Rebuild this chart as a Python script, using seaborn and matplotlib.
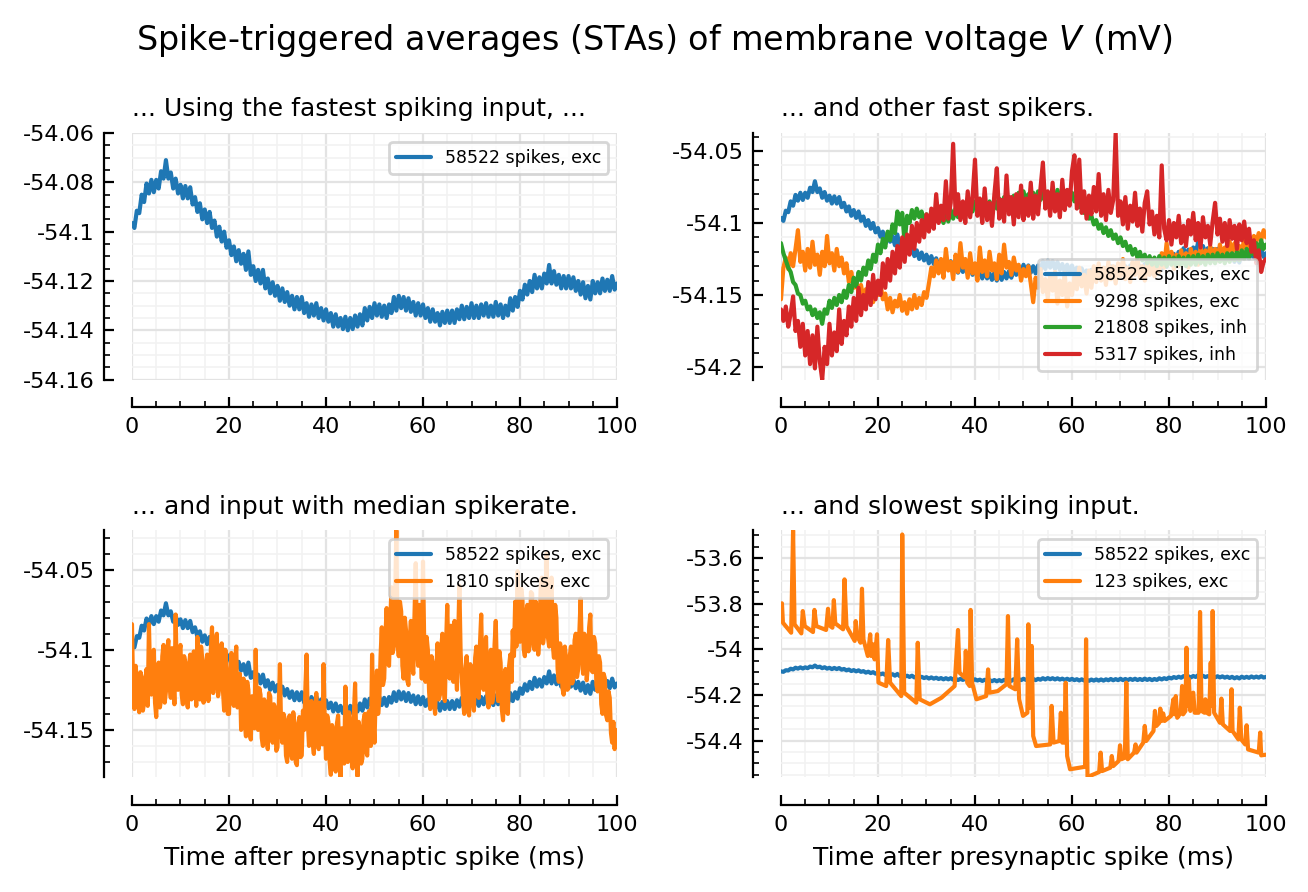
import numpy as np
import matplotlib
matplotlib.use("Agg")
import matplotlib.pyplot as plt
import seaborn as sns
from matplotlib.ticker import MultipleLocator, FuncFormatter

# ---------------- data (mV), time grids in ms ----------------
t_ms = np.arange(0, 100.5, 0.5)
t_fine = np.arange(0, 100.25, 0.25)

v_58522 = [
    -54.0965, -54.0985, -54.0915, -54.0925, -54.085, -54.088, -54.0805, -54.0845, -54.079, -54.084,
    -54.079, -54.0825, -54.0755, -54.0785, -54.071, -54.0785, -54.076, -54.0825, -54.0785, -54.0845,
    -54.081, -54.0865, -54.0815, -54.0865, -54.082, -54.089, -54.086, -54.092, -54.0885, -54.095,
    -54.091, -54.0965, -54.092, -54.0985, -54.0955, -54.102, -54.098, -54.104, -54.100, -54.1065,
    -54.1035, -54.1095, -54.106, -54.112, -54.1075, -54.113, -54.109, -54.1155, -54.108, -54.1175,
    -54.114, -54.120, -54.1155, -54.121, -54.1155, -54.123, -54.119, -54.125, -54.1205, -54.126,
    -54.122, -54.128, -54.123, -54.1285, -54.1245, -54.130, -54.126, -54.1315, -54.1265, -54.1315,
    -54.1265, -54.133, -54.129, -54.1345, -54.1295, -54.134, -54.129, -54.135, -54.131, -54.136,
    -54.1315, -54.1365, -54.133, -54.1385, -54.1335, -54.1385, -54.135, -54.1395, -54.1345, -54.140,
    -54.135, -54.1395, -54.134, -54.1385, -54.1335, -54.138, -54.131, -54.136, -54.1305, -54.135,
    -54.129, -54.134, -54.1295, -54.1345, -54.130, -54.135, -54.1295, -54.133, -54.1265, -54.132,
    -54.126, -54.131, -54.1265, -54.132, -54.127, -54.1325, -54.1285, -54.134, -54.129, -54.134,
    -54.1295, -54.135, -54.131, -54.1365, -54.1315, -54.1365, -54.133, -54.138, -54.1325, -54.137,
    -54.132, -54.137, -54.132, -54.137, -54.1315, -54.1355, -54.130, -54.1355, -54.1305, -54.135,
    -54.129, -54.135, -54.130, -54.135, -54.1295, -54.134, -54.129, -54.1345, -54.130, -54.1345,
    -54.1285, -54.134, -54.1295, -54.135, -54.130, -54.134, -54.127, -54.132, -54.1265, -54.1305,
    -54.124, -54.1275, -54.1215, -54.1255, -54.120, -54.1245, -54.1175, -54.123, -54.1185, -54.123,
    -54.117, -54.121, -54.1135, -54.121, -54.116, -54.1215, -54.1175, -54.123, -54.118, -54.123,
    -54.118, -54.123, -54.1185, -54.124, -54.120, -54.1255, -54.1205, -54.127, -54.122, -54.1275,
    -54.120, -54.125, -54.1205, -54.125, -54.119, -54.124, -54.1195, -54.124, -54.118, -54.1235,
    -54.121,
]

v_9298 = [
    -54.153, -54.131, -54.124, -54.132, -54.121, -54.130, -54.118, -54.105, -54.127, -54.120,
    -54.133, -54.118, -54.131, -54.113, -54.129, -54.122, -54.136, -54.120, -54.130, -54.109,
    -54.128, -54.121, -54.133, -54.118, -54.130, -54.124, -54.135, -54.128, -54.141, -54.134,
    -54.145, -54.139, -54.149, -54.143, -54.153, -54.146, -54.152, -54.144, -54.155, -54.147,
    -54.150, -54.141, -54.153, -54.149, -54.160, -54.152, -54.162, -54.154, -54.158, -54.150,
    -54.161, -54.155, -54.163, -54.153, -54.160, -54.150, -54.159, -54.152, -54.157, -54.148,
    -54.152, -54.142, -54.131, -54.137, -54.126, -54.135, -54.125, -54.138, -54.118, -54.133,
    -54.127, -54.139, -54.122, -54.134, -54.114, -54.131, -54.125, -54.138, -54.121, -54.135,
    -54.128, -54.140, -54.117, -54.134, -54.126, -54.137, -54.120, -54.133, -54.128, -54.139,
    -54.122, -54.135, -54.115, -54.131, -54.127, -54.136, -54.124, -54.133, -54.129, -54.140,
    -54.132, -54.137, -54.130, -54.142, -54.155, -54.138, -54.145, -54.132, -54.148, -54.139,
    -54.152, -54.136, -54.147, -54.134, -54.156, -54.140, -54.150, -54.135, -54.158, -54.142,
    -54.150, -54.137, -54.146, -54.131, -54.144, -54.136, -54.149, -54.133, -54.145, -54.130,
    -54.141, -54.128, -54.140, -54.131, -54.143, -54.127, -54.139, -54.130, -54.142, -54.128,
    -54.137, -54.125, -54.139, -54.131, -54.141, -54.127, -54.136, -54.124, -54.138, -54.130,
    -54.140, -54.128, -54.136, -54.125, -54.137, -54.129, -54.134, -54.121, -54.131, -54.114,
    -54.128, -54.120, -54.132, -54.122, -54.130, -54.119, -54.128, -54.121, -54.131, -54.118,
    -54.127, -54.120, -54.129, -54.117, -54.126, -54.119, -54.125, -54.116, -54.124, -54.118,
    -54.126, -54.115, -54.123, -54.117, -54.121, -54.113, -54.120, -54.114, -54.121, -54.116,
    -54.119, -54.112, -54.118, -54.114, -54.115, -54.109, -54.113, -54.107, -54.112, -54.105,
    -54.110,
]

v_21808 = [
    -54.114, -54.121, -54.126, -54.131, -54.134, -54.141, -54.143, -54.149, -54.150, -54.156,
    -54.154, -54.160, -54.158, -54.164, -54.160, -54.166, -54.162, -54.170, -54.160, -54.163,
    -54.154, -54.159, -54.152, -54.157, -54.150, -54.155, -54.147, -54.152, -54.143, -54.148,
    -54.138, -54.144, -54.134, -54.140, -54.131, -54.136, -54.126, -54.132, -54.122, -54.127,
    -54.115, -54.121, -54.111, -54.117, -54.106, -54.112, -54.101, -54.107, -54.092, -54.101,
    -54.093, -54.114, -54.095, -54.100, -54.091, -54.097, -54.090, -54.096, -54.092, -54.099,
    -54.094, -54.100, -54.093, -54.099, -54.090, -54.097, -54.094, -54.100, -54.093, -54.099,
    -54.091, -54.097, -54.090, -54.096, -54.089, -54.095, -54.087, -54.093, -54.086, -54.092,
    -54.085, -54.091, -54.086, -54.092, -54.084, -54.090, -54.085, -54.091, -54.084, -54.090,
    -54.083, -54.089, -54.082, -54.088, -54.082, -54.088, -54.081, -54.087, -54.079, -54.086,
    -54.078, -54.085, -54.080, -54.086, -54.079, -54.085, -54.078, -54.084, -54.079, -54.085,
    -54.080, -54.086, -54.078, -54.084, -54.077, -54.083, -54.079, -54.085, -54.078, -54.084,
    -54.079, -54.085, -54.082, -54.089, -54.086, -54.093, -54.091, -54.097, -54.095, -54.101,
    -54.098, -54.104, -54.101, -54.107, -54.103, -54.109, -54.105, -54.111, -54.108, -54.114,
    -54.110, -54.116, -54.113, -54.119, -54.116, -54.122, -54.118, -54.124, -54.120, -54.126,
    -54.122, -54.128, -54.123, -54.129, -54.124, -54.130, -54.123, -54.129, -54.124, -54.130,
    -54.123, -54.129, -54.124, -54.130, -54.123, -54.129, -54.124, -54.130, -54.123, -54.129,
    -54.123, -54.129, -54.122, -54.128, -54.123, -54.129, -54.122, -54.128, -54.122, -54.128,
    -54.121, -54.127, -54.122, -54.128, -54.121, -54.127, -54.121, -54.126, -54.120, -54.126,
    -54.119, -54.125, -54.118, -54.124, -54.116, -54.122, -54.114, -54.120, -54.112, -54.118,
    -54.115,
]

v_5317 = [
    -54.160, -54.168, -54.158, -54.172, -54.163, -54.151, -54.175, -54.168, -54.186, -54.170,
    -54.192, -54.175, -54.198, -54.178, -54.201, -54.172, -54.196, -54.2088, -54.186, -54.198,
    -54.170, -54.192, -54.176, -54.189, -54.160, -54.184, -54.168, -54.178, -54.158, -54.172,
    -54.152, -54.168, -54.145, -54.164, -54.150, -54.160, -54.141, -54.157, -54.136, -54.153,
    -54.140, -54.150, -54.128, -54.145, -54.125, -54.140, -54.120, -54.135, -54.116, -54.131,
    -54.110, -54.127, -54.108, -54.122, -54.102, -54.118, -54.100, -54.113, -54.098, -54.110,
    -54.094, -54.106, -54.090, -54.104, -54.080, -54.100, -54.088, -54.098, -54.071, -54.097,
    -54.086, -54.045, -54.094, -54.080, -54.098, -54.085, -54.100, -54.078, -54.096, -54.082,
    -54.056, -54.095, -54.083, -54.100, -54.076, -54.098, -54.086, -54.102, -54.080, -54.062,
    -54.097, -54.084, -54.099, -54.067, -54.094, -54.082, -54.101, -54.080, -54.096, -54.074,
    -54.098, -54.083, -54.095, -54.072, -54.097, -54.081, -54.094, -54.076, -54.058, -54.090,
    -54.078, -54.095, -54.072, -54.092, -54.080, -54.096, -54.070, -54.091, -54.077, -54.088,
    -54.064, -54.053, -54.090, -54.056, -54.093, -54.078, -54.097, -54.081, -54.094, -54.075,
    -54.092, -54.066, -54.095, -54.080, -54.098, -54.077, -54.093, -54.084, -54.0375, -54.095,
    -54.085, -54.101, -54.082, -54.104, -54.088, -54.099, -54.079, -54.102, -54.090, -54.106,
    -54.086, -54.078, -54.101, -54.092, -54.108, -54.095, -54.110, -54.060, -54.104, -54.112,
    -54.098, -54.115, -54.100, -54.110, -54.095, -54.114, -54.102, -54.116, -54.098, -54.108,
    -54.093, -54.112, -54.100, -54.117, -54.096, -54.110, -54.102, -54.115, -54.099, -54.086,
    -54.108, -54.097, -54.113, -54.100, -54.116, -54.098, -54.111, -54.102, -54.118, -54.101,
    -54.112, -54.099, -54.114, -54.104, -54.120, -54.112, -54.128, -54.119, -54.134, -54.127,
    -54.125,
]

# median-rate input (1810 spikes), sampled every 0.25 ms
v_1810 = [
    -54.084, -54.128, -54.137, -54.110, -54.118, -54.134, -54.139, -54.114, -54.117, -54.138,
    -54.133, -54.120, -54.112, -54.135, -54.084, -54.118, -54.128, -54.106, -54.100, -54.133,
    -54.142, -54.115, -54.108, -54.136, -54.131, -54.104, -54.097, -54.133, -54.126, -54.101,
    -54.094, -54.121, -54.130, -54.099, -54.112, -54.134, -54.078, -54.116, -54.125, -54.102,
    -54.097, -54.128, -54.134, -54.104, -54.108, -54.129, -54.136, -54.110, -54.103, -54.131,
    -54.130, -54.101, -54.112, -54.135, -54.092, -54.120, -54.131, -54.098, -54.106, -54.133,
    -54.128, -54.110, -54.103, -54.132, -54.124, -54.100, -54.086, -54.127, -54.118, -54.095,
    -54.090, -54.129, -54.123, -54.104, -54.096, -54.125, -54.138, -54.100, -54.112, -54.140,
    -54.140, -54.118, -54.102, -54.129, -54.135, -54.108, -54.098, -54.136, -54.132, -54.115,
    -54.150, -54.126, -54.118, -54.145, -54.154, -54.120, -54.125, -54.152, -54.156, -54.129,
    -54.130, -54.149, -54.100, -54.138, -54.150, -54.124, -54.128, -54.155, -54.160, -54.131,
    -54.133, -54.154, -54.162, -54.127, -54.129, -54.152, -54.158, -54.134, -54.136, -54.163,
    -54.161, -54.138, -54.109, -54.150, -54.158, -54.140, -54.143, -54.166, -54.170, -54.145,
    -54.141, -54.164, -54.168, -54.139, -54.146, -54.170, -54.172, -54.148, -54.142, -54.167,
    -54.166, -54.138, -54.150, -54.124, -54.103, -54.145, -54.160, -54.136, -54.132, -54.158,
    -54.165, -54.140, -54.127, -54.151, -54.162, -54.133, -54.140, -54.159, -54.109, -54.148,
    -54.168, -54.141, -54.145, -54.170, -54.178, -54.147, -54.150, -54.172, -54.176, -54.146,
    -54.141, -54.166, -54.1794, -54.149, -54.152, -54.171, -54.123, -54.150, -54.170, -54.139,
    -54.146, -54.168, -54.174, -54.140, -54.121, -54.158, -54.179, -54.145, -54.150, -54.171,
    -54.168, -54.144, -54.140, -54.163, -54.166, -54.139, -54.138, -54.160, -54.103, -54.142,
    -54.158, -54.128, -54.113, -54.140, -54.131, -54.104, -54.086, -54.122, -54.118, -54.092,
    -54.074, -54.108, -54.110, -54.082, -54.061, -54.102, -54.098, -54.070, -54.0255, -54.093,
    -54.104, -54.070, -54.076, -54.110, -54.118, -54.080, -54.088, -54.119, -54.122, -54.094,
    -54.082, -54.109, -54.115, -54.078, -54.046, -54.098, -54.110, -54.072, -54.090, -54.118,
    -54.045, -54.096, -54.120, -54.092, -54.100, -54.126, -54.137, -54.104, -54.108, -54.133,
    -54.140, -54.112, -54.096, -54.131, -54.128, -54.099, -54.090, -54.124, -54.132, -54.097,
    -54.072, -54.104, -54.118, -54.085, -54.094, -54.120, -54.082, -54.110, -54.125, -54.093,
    -54.060, -54.101, -54.118, -54.132, -54.140, -54.112, -54.104, -54.136, -54.141, -54.109,
    -54.112, -54.131, -54.138, -54.105, -54.098, -54.127, -54.130, -54.096, -54.078, -54.118,
    -54.125, -54.099, -54.092, -54.128, -54.136, -54.107, -54.100, -54.133, -54.129, -54.097,
    -54.082, -54.115, -54.132, -54.101, -54.108, -54.137, -54.144, -54.116, -54.112, -54.139,
    -54.140, -54.110, -54.103, -54.120, -54.088, -54.104, -54.070, -54.098, -54.051, -54.090,
    -54.095, -54.062, -54.068, -54.099, -54.104, -54.078, -54.072, -54.101, -54.098, -54.064,
    -54.065, -54.094, -54.100, -54.070, -54.074, -54.103, -54.092, -54.062, -54.055, -54.096,
    -54.090, -54.066, -54.040, -54.092, -54.098, -54.068, -54.055, -54.097, -54.105, -54.072,
    -54.080, -54.112, -54.120, -54.096, -54.100, -54.124, -54.128, -54.098, -54.106, -54.125,
    -54.124, -54.104, -54.098, -54.121, -54.118, -54.094, -54.090, -54.117, -54.112, -54.088,
    -54.068, -54.102, -54.115, -54.090, -54.092, -54.119, -54.110, -54.086, -54.078, -54.113,
    -54.114, -54.092, -54.096, -54.122, -54.126, -54.104, -54.108, -54.134, -54.140, -54.115,
    -54.118, -54.141, -54.144, -54.126, -54.130, -54.152, -54.158, -54.145, -54.162, -54.150,
    -54.155,
]

# slowest input (123 spikes): irregular sample times around its sharp peaks
t_123 = [
    0.0, 0.2, 0.4, 2.1, 2.5, 2.8, 4.2, 4.5, 4.9, 6.6,
    6.9, 7.3, 9.3, 9.7, 10.0, 10.6, 10.9, 11.2, 12.8, 13.1,
    13.5, 15.2, 15.4, 15.7, 16.4, 16.7, 17.0, 17.9, 18.4, 18.6,
    19.0, 19.3, 19.8, 20.1, 21.7, 22.1, 22.5, 24.8, 25.0, 25.4,
    27.9, 28.2, 28.6, 30.7, 33.1, 35.8, 36.5, 36.8, 37.9, 38.1,
    38.4, 38.9, 39.1, 39.4, 40.3, 42.3, 42.7, 43.0, 44.7, 46.5,
    46.8, 47.1, 48.3, 48.7, 49.1, 49.9, 50.8, 51.0, 51.3, 51.7,
    52.0, 52.6, 55.5, 55.8, 56.2, 57.4, 57.7, 58.0, 58.4, 58.7,
    59.0, 59.6, 62.7, 62.9, 63.2, 65.6, 65.9, 66.2, 67.9, 68.2,
    68.5, 69.6, 69.9, 70.2, 70.9, 71.2, 71.5, 72.8, 73.1, 73.3,
    74.7, 75.0, 75.3, 76.8, 77.1, 77.4, 78.0, 78.2, 78.5, 78.8,
    79.1, 80.4, 80.9, 81.1, 81.4, 81.7, 82.4, 82.7, 82.9, 83.4,
    83.6, 83.8, 84.1, 84.4, 85.0, 85.3, 86.1, 86.4, 86.7, 87.3,
    87.5, 87.8, 88.3, 88.6, 88.8, 89.0, 89.3, 90.5, 90.8, 91.1,
    92.6, 92.9, 93.1, 94.3, 94.6, 94.9, 95.7, 96.0, 96.3, 98.5,
    98.8, 99.0, 100.0,
]
v_123 = [
    -53.832, -53.798, -53.883, -53.927, -53.478, -53.890, -53.930, -53.832, -53.898, -53.924,
    -53.827, -53.898, -53.915, -53.822, -53.895, -53.905, -53.784, -53.886, -53.912, -53.693,
    -53.898, -53.963, -53.876, -53.941, -53.971, -53.734, -53.956, -54.029, -53.934, -54.029,
    -53.978, -54.044, -53.934, -54.146, -54.161, -53.959, -54.146, -54.205, -53.496, -54.190,
    -54.234, -53.971, -54.219, -54.241, -54.212, -54.161, -53.915, -54.102, -54.124, -54.007,
    -54.146, -54.161, -53.827, -54.146, -54.219, -54.205, -54.088, -54.190, -54.183, -54.153,
    -53.854, -54.161, -54.175, -53.956, -54.219, -54.292, -54.278, -53.890, -54.256, -53.985,
    -54.380, -54.424, -54.417, -54.248, -54.409, -54.402, -54.278, -54.409, -54.409, -54.146,
    -54.468, -54.526, -54.515, -53.956, -54.560, -54.538, -54.453, -54.534, -54.519, -54.468,
    -54.512, -54.490, -54.421, -54.482, -54.475, -54.146, -54.482, -54.453, -54.417, -54.453,
    -54.409, -54.336, -54.402, -54.358, -54.270, -54.336, -54.322, -54.260, -54.314, -54.281,
    -54.314, -54.292, -54.219, -54.285, -54.205, -54.300, -54.278, -54.161, -54.285, -54.270,
    -53.993, -54.248, -54.131, -54.270, -54.190, -54.278, -54.278, -53.836, -54.270, -54.278,
    -54.219, -54.278, -54.285, -54.058, -54.248, -53.832, -54.278, -54.322, -54.216, -54.329,
    -54.358, -54.175, -54.358, -54.395, -54.256, -54.395, -54.417, -54.333, -54.439, -54.453,
    -54.365, -54.465, -54.462,
]

labels = {
    "58522": "58522 spikes, exc",
    "9298": "9298 spikes, exc",
    "21808": "21808 spikes, inh",
    "5317": "5317 spikes, inh",
    "1810": "1810 spikes, exc",
    "123": "123 spikes, exc",
}
titles = [
    "... Using the fastest spiking input, ...",
    "... and other fast spikers.",
    "... and input with median spikerate.",
    "... and slowest spiking input.",
]
suptitle = "Spike-triggered averages (STAs) of membrane voltage $V$ (mV)"
xlabel = "Time after presynaptic spike (ms)"

for arr in (v_58522, v_9298, v_21808, v_5317):
    assert len(arr) == len(t_ms), len(arr)
assert len(v_1810) == len(t_fine), len(v_1810)
assert len(t_123) == len(v_123)

series = {
    "58522": (t_ms, v_58522),
    "9298": (t_ms, v_9298),
    "21808": (t_ms, v_21808),
    "5317": (t_ms, v_5317),
    "1810": (t_fine, v_1810),
    "123": (t_123, v_123),
}

# ---------------- style ----------------
sns.set_style("ticks")
plt.rcParams.update({
    "font.size": 9,
    "axes.titlesize": 9,
    "axes.labelsize": 9,
    "xtick.labelsize": 8,
    "ytick.labelsize": 8,
    "legend.fontsize": 6.25,
    "axes.edgecolor": "black",
    "xtick.color": "black",
    "ytick.color": "black",
    "text.color": "black",
    "axes.labelcolor": "black",
})
plt.rcParams["font.family"] = ["DejaVu Sans"]

pal = sns.color_palette("tab10")
colors = {"58522": pal[0], "9298": pal[1], "21808": pal[2], "5317": pal[3],
          "1810": pal[1], "123": pal[1]}

panels = [
    dict(keys=["58522"], loc="upper right", ylim=(-54.16, -54.06), major=0.02, minor=0.005),
    dict(keys=["58522", "9298", "21808", "5317"], loc="lower right", ylim=None, major=0.05, minor=0.01),
    dict(keys=["58522", "1810"], loc="upper right", ylim=None, major=0.05, minor=0.01),
    dict(keys=["58522", "123"], loc="upper right", ylim=None, major=0.2, minor=0.05),
]

fig, axes = plt.subplots(2, 2, figsize=(6.54, 4.46), dpi=200)
fig.subplots_adjust(left=0.1009, right=0.9679, top=0.8509, bottom=0.1289,
                    wspace=0.338, hspace=0.611)

yfmt = FuncFormatter(lambda v, p: f"{round(v, 6):g}")

for i, (ax, cfg) in enumerate(zip(axes.flat, panels)):
    for k in cfg["keys"]:
        x, y = series[k]
        sns.lineplot(x=np.asarray(x), y=np.asarray(y), ax=ax, color=colors[k],
                     linewidth=1.5, label=labels[k], estimator=None, sort=False)
    ax.margins(x=0, y=0)
    ax.set_xlim(0, 100)
    if cfg["ylim"] is not None:
        ax.set_ylim(*cfg["ylim"])
    ax.xaxis.set_major_locator(MultipleLocator(20))
    ax.xaxis.set_minor_locator(MultipleLocator(5))
    ax.yaxis.set_major_locator(MultipleLocator(cfg["major"]))
    ax.yaxis.set_minor_locator(MultipleLocator(cfg["minor"]))
    ax.yaxis.set_major_formatter(yfmt)
    ax.set_axisbelow(True)
    ax.grid(which="major", color="#e3e3e3", linewidth=0.8)
    ax.grid(which="minor", color="#f2f2f2", linewidth=0.6)
    ax.tick_params(which="both", direction="in")
    ax.tick_params(which="major", length=3.5, width=0.8)
    ax.tick_params(which="minor", length=2, width=0.6)
    ax.set_title(titles[i], loc="left")
    ax.set_ylabel("")
    ax.set_xlabel(xlabel if i >= 2 else "")
    ax.legend(loc=cfg["loc"], fontsize=6.25)
    sns.despine(ax=ax, offset=10)

fig.suptitle(suptitle, fontsize=12, y=0.975)
fig.savefig("out.png", dpi=200)
